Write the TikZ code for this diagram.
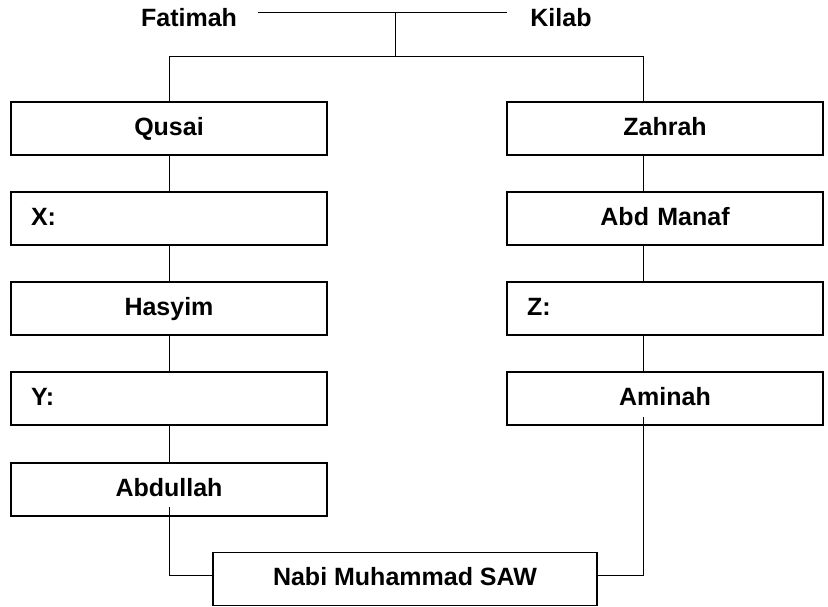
\documentclass[tikz,border=0pt]{standalone}
\usepackage{fontspec}
\setmainfont{Liberation Sans}
\begin{document}
\begin{tikzpicture}[x=1pt,y=-1pt,
  txt/.style={font=\bfseries\fontsize{25}{29}\selectfont},
  box/.style={draw,txt,line width=1.2pt,minimum height=53pt,inner xsep=20pt,inner ysep=0pt,text height=18pt,text depth=5pt},
  cbox/.style={box,text width=276pt,align=center},
  lbox/.style={box,text width=276pt,align=left},
  lbl/.style={txt,inner sep=0pt},
  conn/.style={line width=1pt}]
\useasboundingbox (0,0) rectangle (828,606);
\node[lbl] (fat) at (189,18) {Fatimah};
\node[lbl] (kil) at (561,18) {Kilab};
\coordinate (tl) at (258,12);
\coordinate (tr) at (507,12);
\coordinate (tm) at (395,12);
\coordinate (hm) at (395,56);
\node[cbox] (qusai) at (169,128.5) {Qusai};
\node[lbox] (x) at (169,218.5) {X:};
\node[cbox] (hasyim) at (169,308.5) {Hasyim};
\node[lbox] (y) at (169,398.5) {Y:};
\node[cbox] (abdullah) at (169,489.5) {Abdullah};
\node[cbox] (zahrah) at (665,128.5) {Zahrah};
\node[cbox] (abd) at (665,218.5) {Abd Manaf};
\node[lbox] (z) at (665,308.5) {Z:};
\node[cbox] (aminah) at (665,398.5) {Aminah};
\node[box,minimum width=384pt,inner xsep=0pt] (nabi) at (405,579) {Nabi Muhammad SAW};
\draw[conn] (tl) -- (tr);
\draw[conn] (tm) -- (hm);
\draw[conn] (qusai.north) |- (hm);
\draw[conn] ([xshift=-22pt]zahrah.north) |- (hm);
\draw[conn] (qusai) -- (x);
\draw[conn] (x) -- (hasyim);
\draw[conn] (hasyim) -- (y);
\draw[conn] (y) -- (abdullah);
\draw[conn] ([xshift=-22pt]zahrah.south) -- ([xshift=-22pt]abd.north);
\draw[conn] ([xshift=-22pt]abd.south) -- ([xshift=-22pt]z.north);
\draw[conn] ([xshift=-22pt]z.south) -- ([xshift=-22pt]aminah.north);
\coordinate (ab) at (169,507);
\coordinate (am) at (643,417);
\draw[conn] (ab) |- ([yshift=4pt]nabi.west);
\draw[conn] (am) |- ([yshift=4pt]nabi.east);
\end{tikzpicture}
\end{document}
